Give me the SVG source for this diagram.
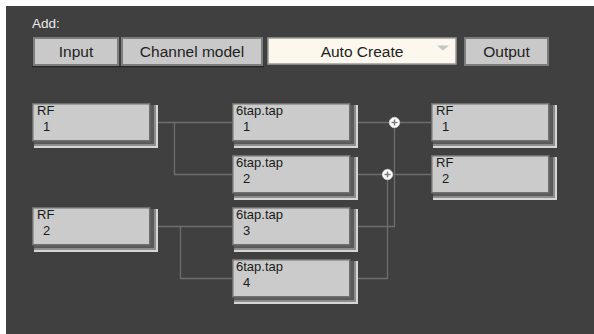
<svg xmlns="http://www.w3.org/2000/svg" xmlns:xlink="http://www.w3.org/1999/xlink" width="594" height="334" viewBox="0 0 594 334">
  <style>
    .btn { fill: #c9c9c9; stroke: #7c7c7c; stroke-width: 2; }
    .btn-hi { fill: none; stroke: #e0e0e0; stroke-width: 1; }
    .btxt { font-family: "Liberation Sans", Arial, sans-serif; font-size: 15.5px; fill: #222; text-anchor: middle; }
    .lbl { font-family: "Liberation Sans", Arial, sans-serif; font-size: 13px; fill: #1a1a1a; }
    .conn { fill: none; stroke: #6e6e6e; stroke-width: 1.3; }
    .main { fill: #cbcbcb; stroke: #6f6f6f; stroke-width: 1.5; }
  </style>
  <defs>
    <g id="nodeShape">
      <rect x="2" y="2" width="124" height="43" fill="#d6d6d6"/>
      <rect x="2" y="2" width="122" height="41" fill="#8c8c8c"/>
      <rect x="2" y="2" width="120" height="39" fill="#5a5a5a"/>
      <rect class="main" x="0.75" y="0.75" width="117" height="37"/>
    </g>
    <g id="sum">
      <circle r="5.2" fill="#ffffff" stroke="#d0d0d0" stroke-width="0.8"/>
      <path d="M-3 0H3M0 -3V3" stroke="#7a7a7a" stroke-width="1.4"/>
    </g>
  </defs>

  <rect x="0" y="0" width="594" height="334" fill="#ffffff"/>
  <rect x="6" y="6" width="588" height="328" fill="#404040"/>

  <!-- Toolbar -->
  <g id="toolbar">
    <text x="32" y="28" font-family="Liberation Sans, Arial, sans-serif" font-size="13.5px" fill="#ececec">Add:</text>
    <line x1="32" y1="66.5" x2="264" y2="66.5" stroke="#262626" stroke-width="1.5"/>
    <g id="btn-input">
      <rect class="btn" x="34" y="38" width="84" height="27"/>
      <text class="btxt" x="76" y="57">Input</text>
    </g>
    <g id="btn-channel">
      <rect class="btn" x="122" y="38" width="140" height="27"/>
      <text class="btxt" x="192" y="57">Channel model</text>
    </g>
    <g id="dd-auto">
      <rect x="268" y="38" width="188" height="26" fill="#fdf8ee" stroke="#9a9a9a" stroke-width="1.5"/>
      <text class="btxt" x="362" y="57">Auto Create</text>
      <path d="M437 45.5 H449 L443 50.5 Z" fill="#c4c4c4"/>
    </g>
    <g id="btn-output">
      <rect class="btn" x="465" y="38" width="83" height="27"/>
      <text class="btxt" x="506.5" y="57">Output</text>
    </g>
  </g>

  <!-- Connectors -->
  <g id="connectors">
    <path class="conn" d="M155 122.5 H233 M174.5 122.5 V174.5 H233"/>
    <path class="conn" d="M155 226.5 H233 M180.5 226.5 V278.5 H233"/>
    <path class="conn" d="M355 122.5 H432"/>
    <path class="conn" d="M355 174.5 H432"/>
    <path class="conn" d="M355 226.5 H394.5 V122.5"/>
    <path class="conn" d="M355 278.5 H387.5 V174.5"/>
    <use xlink:href="#sum" href="#sum" x="394.5" y="122.5"/>
    <use xlink:href="#sum" href="#sum" x="387.5" y="174.5"/>
  </g>

  <!-- Nodes -->
  <g id="in-rf1">
    <use xlink:href="#nodeShape" href="#nodeShape" x="32" y="103"/>
    <text class="lbl" x="37" y="115">RF</text>
    <text class="lbl" x="43" y="131">1</text>
  </g>
  <g id="in-rf2">
    <use xlink:href="#nodeShape" href="#nodeShape" x="32" y="207"/>
    <text class="lbl" x="37" y="219">RF</text>
    <text class="lbl" x="43" y="235">2</text>
  </g>
  <g id="tap1">
    <use xlink:href="#nodeShape" href="#nodeShape" x="232" y="103"/>
    <text class="lbl" x="236" y="115">6tap.tap</text>
    <text class="lbl" x="243" y="131">1</text>
  </g>
  <g id="tap2">
    <use xlink:href="#nodeShape" href="#nodeShape" x="232" y="155"/>
    <text class="lbl" x="236" y="167">6tap.tap</text>
    <text class="lbl" x="243" y="183">2</text>
  </g>
  <g id="tap3">
    <use xlink:href="#nodeShape" href="#nodeShape" x="232" y="207"/>
    <text class="lbl" x="236" y="219">6tap.tap</text>
    <text class="lbl" x="243" y="235">3</text>
  </g>
  <g id="tap4">
    <use xlink:href="#nodeShape" href="#nodeShape" x="232" y="259"/>
    <text class="lbl" x="236" y="271">6tap.tap</text>
    <text class="lbl" x="243" y="287">4</text>
  </g>
  <g id="out-rf1">
    <use xlink:href="#nodeShape" href="#nodeShape" x="431" y="103"/>
    <text class="lbl" x="436" y="115">RF</text>
    <text class="lbl" x="442" y="131">1</text>
  </g>
  <g id="out-rf2">
    <use xlink:href="#nodeShape" href="#nodeShape" x="431" y="155"/>
    <text class="lbl" x="436" y="167">RF</text>
    <text class="lbl" x="442" y="183">2</text>
  </g>
</svg>
